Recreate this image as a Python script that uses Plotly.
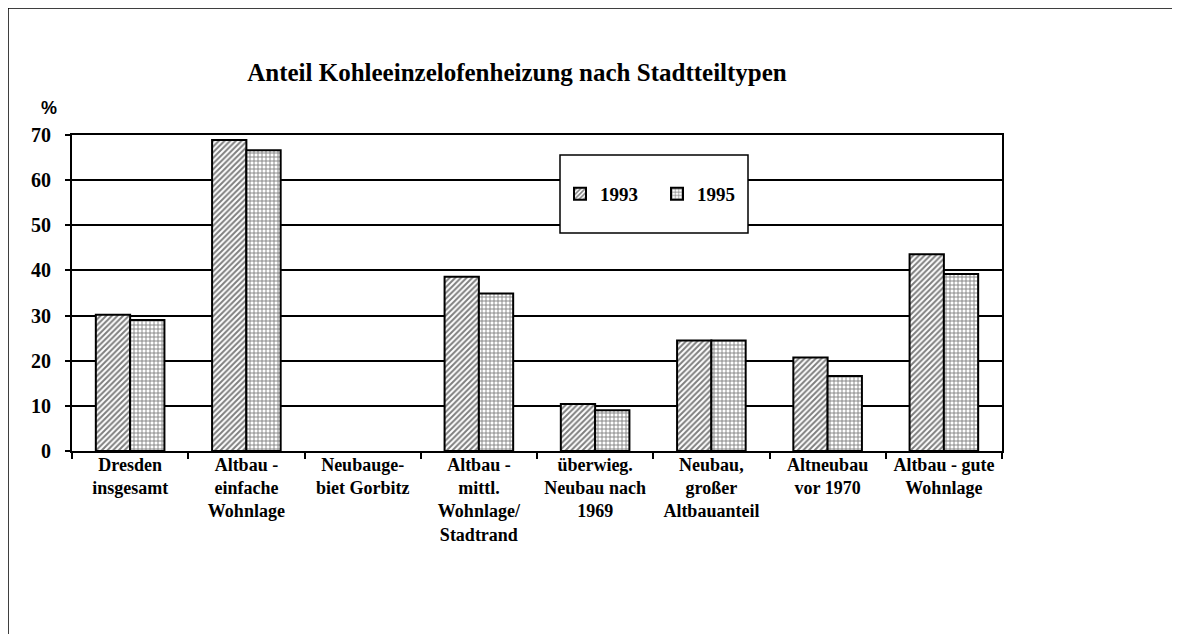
import plotly.graph_objects as go

# Stadtteiltypen (x-Achse)
kategorien = [
    'Dresden<br>insgesamt',
    'Altbau -<br>einfache<br>Wohnlage',
    'Neubauge-<br>biet Gorbitz',
    'Altbau -<br>mittl.<br>Wohnlage/<br>Stadtrand',
    'überwieg.<br>Neubau nach<br>1969',
    'Neubau,<br>großer<br>Altbauanteil',
    'Altneubau<br>vor 1970',
    'Altbau - gute<br>Wohnlage',
]

# Anteil Kohleeinzelofenheizung in % (Gorbitz: kein Wert)
werte_1993 = [30.2, 68.9, None, 38.6, 10.4, 24.5, 20.7, 43.6]
werte_1995 = [29.0, 66.6, None, 34.9, 9.0, 24.5, 16.6, 39.2]

y_ticks = [0, 10, 20, 30, 40, 50, 60, 70]

schrift = 'Liberation Serif'
schwarz = 'black'

# die Seite hat 8px Rand, daher Figur 8px kleiner und alles um 8px verschoben
W, H = 1172, 626
L, T = 64, 127
PW, PH = 930, 316


def px(x):
    return (x - 8 - L) / PW


def py(y):
    return (T + PH - (y - 8)) / PH


fig = go.Figure()

fig.add_trace(go.Bar(x=kategorien, y=werte_1993,
                     name='1993',
                     marker=dict(color='white',
                                 line=dict(color=schwarz, width=2),
                                 pattern=dict(shape='/', fgcolor=schwarz,
                                              bgcolor='white', size=4,
                                              solidity=0.5))))
fig.add_trace(go.Bar(x=kategorien, y=werte_1995,
                     name='1995',
                     marker=dict(color='white',
                                 line=dict(color=schwarz, width=2),
                                 pattern=dict(shape='+', fgcolor=schwarz,
                                              bgcolor='white', size=4,
                                              solidity=0.4))))

fig.update_layout(
    width=W, height=H,
    margin=dict(l=L, r=W - L - PW, t=T, b=H - T - PH),
    paper_bgcolor='white', plot_bgcolor='white',
    barmode='group', bargap=0.41, bargroupgap=0,
    font=dict(family=schrift, size=18, color=schwarz),
    title=dict(text='<b>Anteil Kohleeinzelofenheizung nach Stadtteiltypen</b>',
               x=(517 - 8) / W, xanchor='center', y=1 - (72 - 8) / H, yanchor='middle',
               font=dict(family=schrift, size=25, color=schwarz)),
    showlegend=True,
    legend=dict(orientation='h', x=px(560), y=py(194), xanchor='left', yanchor='middle',
                bgcolor='rgba(0,0,0,0)', borderwidth=0,
                entrywidth=52, entrywidthmode='pixels',
                font=dict(family=schrift, size=19, weight='bold')),
    shapes=[
        # Legendenkasten
        dict(type='rect', xref='paper', yref='paper',
             x0=px(560), x1=px(748), y0=py(233), y1=py(155),
             fillcolor='white', line=dict(color=schwarz, width=1.5), layer='above'),
        # Rahmen
        dict(type='rect', xref='paper', yref='paper',
             x0=px(8), x1=px(1195), y0=py(660), y1=py(8),
             fillcolor='rgba(0,0,0,0)', line=dict(color=schwarz, width=1.5), layer='below'),
    ],
    annotations=[
        dict(text='<b>%</b>', xref='paper', yref='paper',
             x=px(49), y=py(108), xanchor='center', yanchor='middle',
             showarrow=False, font=dict(family='Liberation Sans', size=18, color=schwarz)),
    ],
)

fig.update_xaxes(showline=True, linecolor=schwarz, linewidth=2, mirror=True,
                 ticks='outside', tickson='boundaries', ticklen=6, tickwidth=1.5,
                 tickcolor=schwarz, showgrid=False, ticklabelstandoff=-4,
                 tickfont=dict(family=schrift, size=18, weight='bold'))
fig.update_yaxes(range=[0, 70], tickvals=y_ticks, showline=True, linecolor=schwarz,
                 linewidth=2, mirror=True, ticks='outside', ticklen=5, tickwidth=1.5,
                 tickcolor=schwarz, showgrid=True, gridcolor=schwarz, gridwidth=1.5,
                 zeroline=False, ticklabelstandoff=10,
                 tickfont=dict(family=schrift, size=20, weight='bold'))

fig.write_html('out.html')
